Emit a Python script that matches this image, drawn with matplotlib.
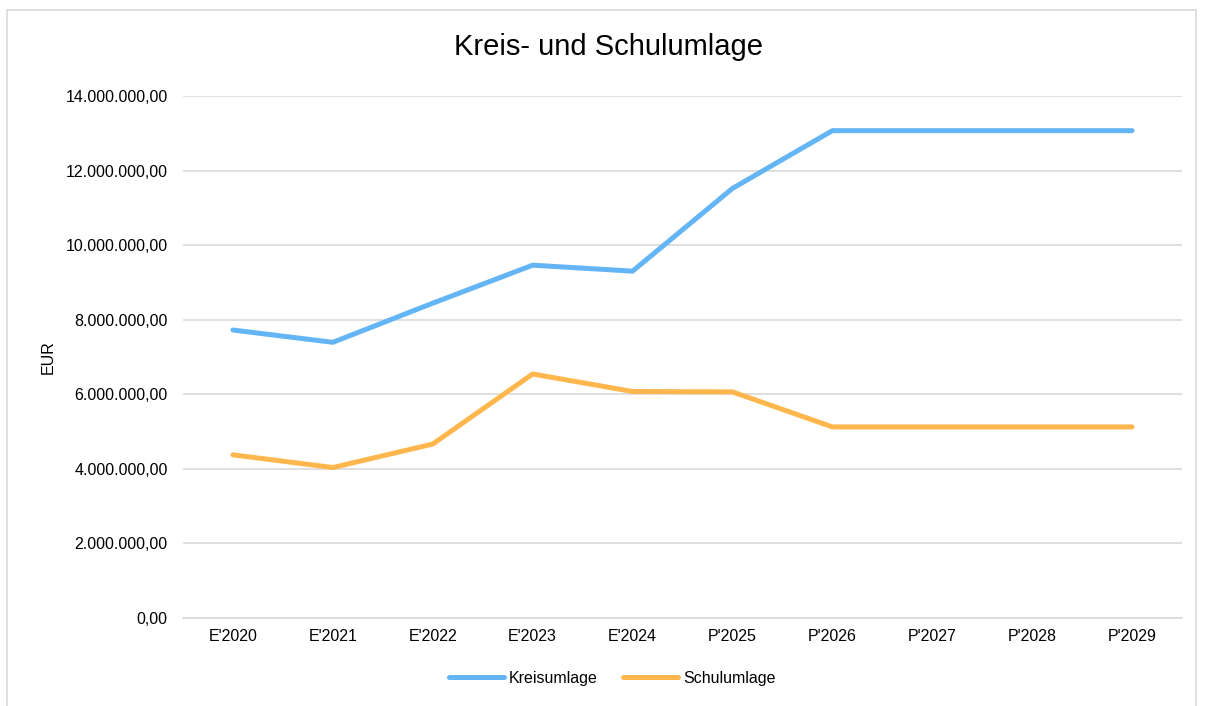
import matplotlib.pyplot as plt
from matplotlib.ticker import FuncFormatter
from matplotlib.patches import Rectangle

plt.rcParams['font.family'] = ['Liberation Sans', 'DejaVu Sans']

# Werte je Jahr (E = Ergebnis, P = Plan)
jahre = ["E'2020", "E'2021", "E'2022", "E'2023", "E'2024",
         "P'2025", "P'2026", "P'2027", "P'2028", "P'2029"]
kreisumlage = [7720000, 7390000, 8440000, 9460000, 9300000,
               11520000, 13070000, 13070000, 13070000, 13070000]
schulumlage = [4370000, 4030000, 4660000, 6540000, 6070000,
               6060000, 5120000, 5120000, 5120000, 5120000]


def de_format(v, pos):
    # deutsches Zahlenformat: 14.000.000,00
    s = f"{v:,.2f}"
    return s.replace(",", "X").replace(".", ",").replace("X", ".")


fig = plt.figure(figsize=(12.06, 7.06), dpi=100)
ax = fig.add_axes([183 / 1206, 1 - 617.7 / 706, (1182 - 183) / 1206, (617.7 - 96) / 706])

# grauer Rahmen um das Diagramm
fig.patches.append(Rectangle((7 / 1206, -0.01), 1189 / 1206, 1 - 10 / 706 + 0.01,
                             transform=fig.transFigure, fill=False,
                             edgecolor='#d9d9d9', linewidth=1.2))

x = range(len(jahre))
ax.plot(x, kreisumlage, color='#64B5F6', linewidth=3.6, label='Kreisumlage',
        solid_capstyle='round', solid_joinstyle='round')
ax.plot(x, schulumlage, color='#FFB74D', linewidth=3.6, label='Schulumlage',
        solid_capstyle='round', solid_joinstyle='round')

ax.set_xlim(-0.5, len(jahre) - 0.5)
ax.set_ylim(0, 14000000)
ax.set_yticks(range(0, 14000001, 2000000))
ax.yaxis.set_major_formatter(FuncFormatter(de_format))
ax.set_xticks(list(x))
ax.set_xticklabels(jahre)

ax.grid(axis='y', color='#d9d9d9', linewidth=1.2)
ax.set_axisbelow(True)
for s in ['top', 'right', 'left']:
    ax.spines[s].set_visible(False)
ax.spines['bottom'].set_color('#d9d9d9')
ax.spines['bottom'].set_linewidth(1.2)
ax.tick_params(axis='both', length=0, labelsize=11.5, colors='#000000')
ax.tick_params(axis='y', pad=11)
ax.tick_params(axis='x', pad=8)

ax.set_ylabel('EUR', fontsize=11.5)
ax.yaxis.set_label_coords(-127 / 999, 0.5)

fig.text(608 / 1206, 1 - 47 / 706, 'Kreis- und Schulumlage', ha='center', va='center',
         fontsize=21)

fig.legend(loc='center', bbox_to_anchor=(612 / 1206, 1 - 678 / 706), ncol=2,
           frameon=False, fontsize=11.5, handlelength=3.45, columnspacing=1.6,
           handletextpad=0.3)

fig.savefig('out.png', dpi=100)
